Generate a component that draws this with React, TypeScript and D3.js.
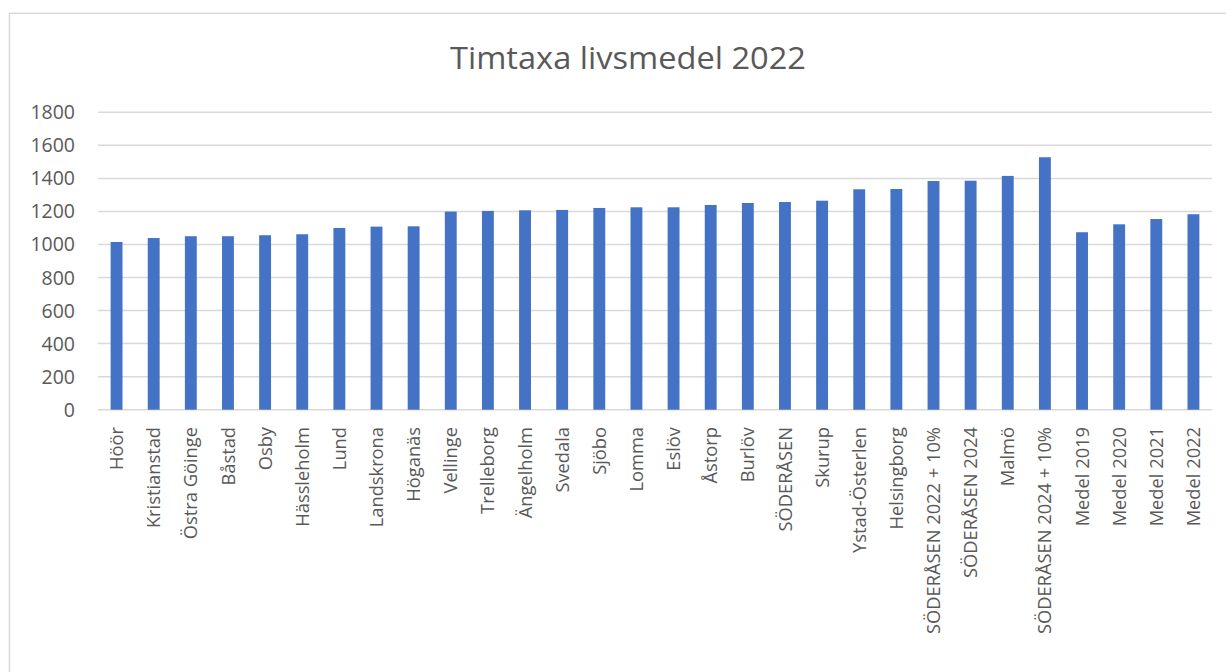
import React, { useEffect } from "react";
import * as d3 from "d3";

const categories = [
  "Höör", "Kristianstad", "Östra Göinge", "Båstad", "Osby", "Hässleholm", "Lund",
  "Landskrona", "Höganäs", "Vellinge", "Trelleborg", "Ängelholm", "Svedala", "Sjöbo",
  "Lomma", "Eslöv", "Åstorp", "Burlöv", "SÖDERÅSEN", "Skurup", "Ystad-Österlen",
  "Helsingborg", "SÖDERÅSEN 2022 + 10%", "SÖDERÅSEN 2024", "Malmö",
  "SÖDERÅSEN 2024 + 10%", "Medel 2019", "Medel 2020", "Medel 2021", "Medel 2022",
];

const values = [
  1015, 1039, 1050, 1050, 1056, 1062, 1100, 1108, 1110, 1199, 1203, 1207, 1209, 1221,
  1225, 1225, 1239, 1251, 1257, 1265, 1334, 1336, 1384, 1386, 1415, 1528, 1074, 1122,
  1154, 1183,
];

const yTicks = [0, 200, 400, 600, 800, 1000, 1200, 1400, 1600, 1800];

const title = "Timtaxa livsmedel 2022";

const W = 1226;
const H = 672;
const font = "'Open Sans', 'Noto Sans', sans-serif";
const textColor = "#595959";

export default function App() {
  useEffect(() => {
    document.body.style.margin = "0";
  }, []);

  const x = d3.scaleBand<string>().domain(categories).range([98, 1212]).padding(0);
  const y = d3.scaleLinear().domain([0, 1800]).range([409.7, 112.3]);
  const barW = x.bandwidth() * 0.32;

  return (
    <svg width={W} height={H} style={{ display: "block" }}>
      <rect x={0} y={0} width={W} height={H} fill="#fff" />
      {/* chart frame */}
      <rect x={9.5} y={13.3} width={W + 10} height={H + 10} fill="none" stroke="#d9d9d9" strokeWidth={1.5} />

      <text
        x={450}
        y={69}
        fontFamily={font}
        fontSize={31}
        fill={textColor}
        textLength={356}
        lengthAdjust="spacingAndGlyphs"
      >
        {title}
      </text>

      {/* gridlines */}
      {yTicks.map((t) => (
        <line key={t} x1={98} x2={1212} y1={y(t)} y2={y(t)} stroke="#d9d9d9" strokeWidth={1.5} />
      ))}

      {/* y labels */}
      {yTicks.map((t) => (
        <text
          key={"l" + t}
          x={75}
          y={y(t)}
          dy="0.36em"
          textAnchor="end"
          fontFamily={font}
          fontSize={19.5}
          fill={textColor}
        >
          {t}
        </text>
      ))}

      {/* bars */}
      {categories.map((c, i) => (
        <rect
          key={c}
          x={x(c)! + (x.bandwidth() - barW) / 2}
          y={y(values[i])}
          width={barW}
          height={y(0) - y(values[i])}
          fill="#4472c4"
        />
      ))}

      {/* x labels */}
      {categories.map((c) => {
        const cx = x(c)! + x.bandwidth() / 2;
        return (
          <text
            key={"x" + c}
            transform={`translate(${cx},427) rotate(-90)`}
            dy="0.36em"
            textAnchor="end"
            fontFamily={font}
            fontSize={18.3}
            fill={textColor}
          >
            {c}
          </text>
        );
      })}
    </svg>
  );
}
